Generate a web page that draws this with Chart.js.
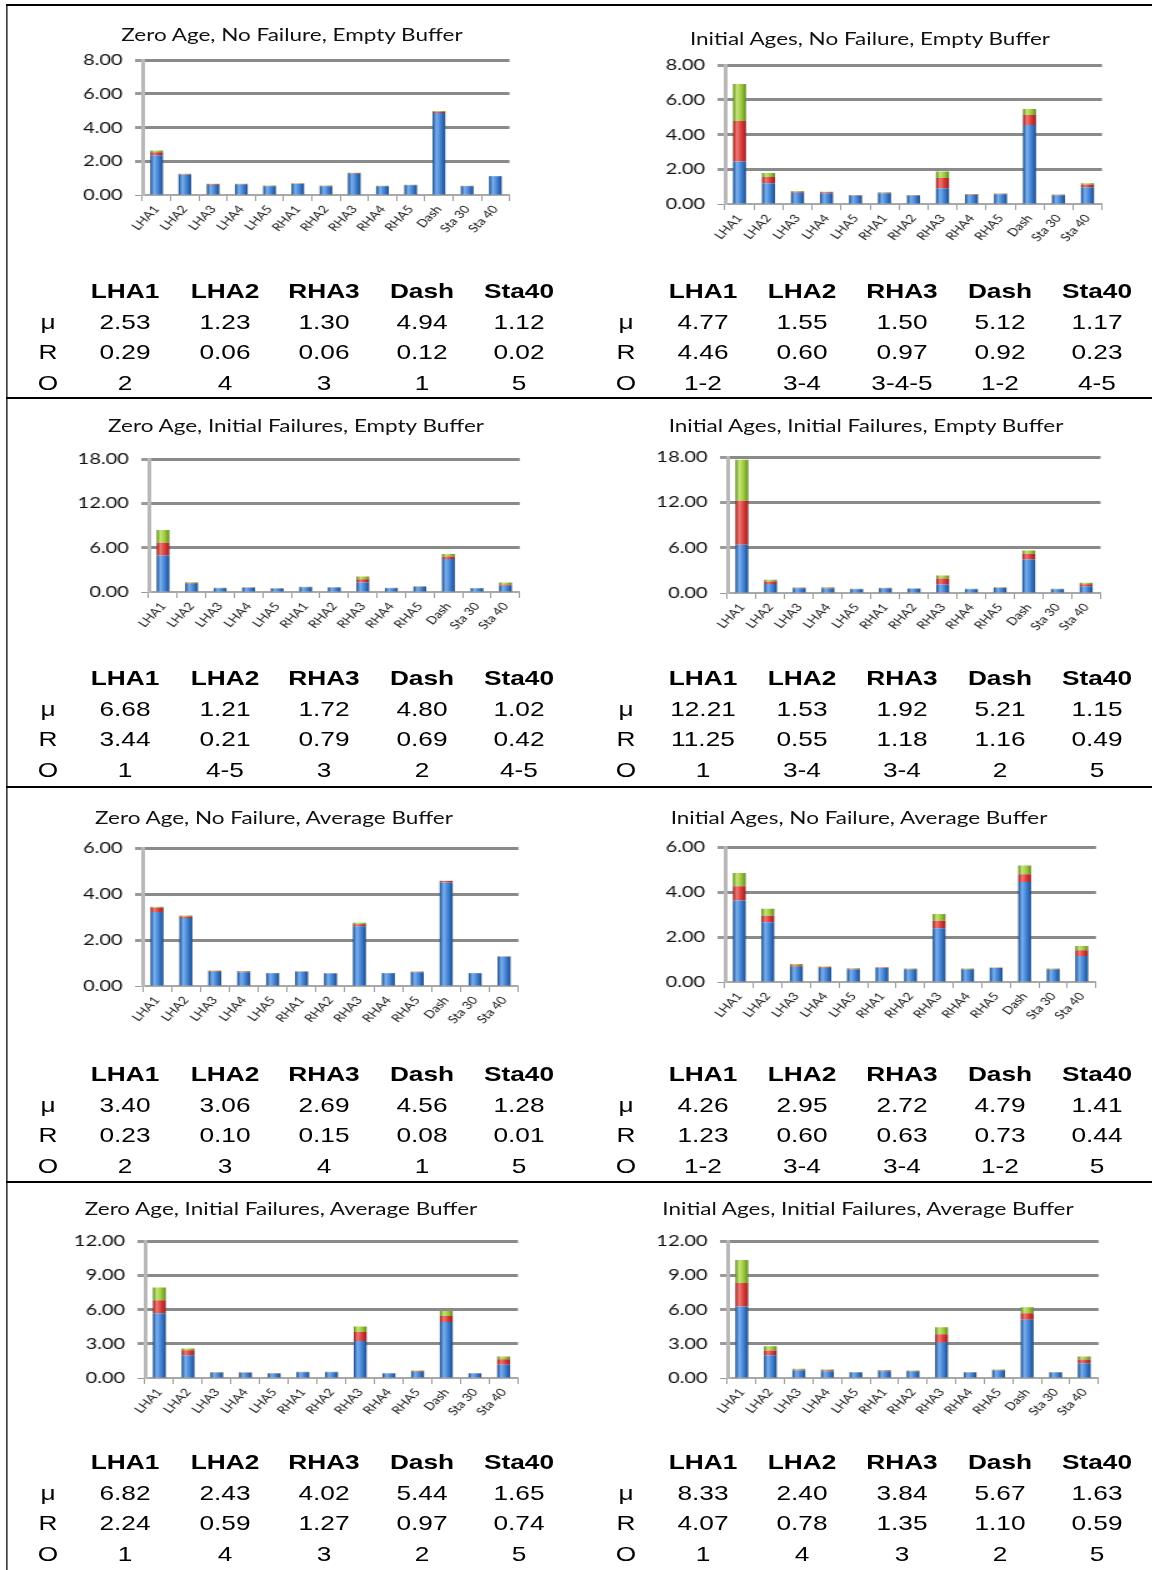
<!DOCTYPE html>
<html>
<head>
<meta charset="utf-8">
<script src="https://cdn.jsdelivr.net/npm/chart.js@4.4.0/dist/chart.umd.min.js"></script>
<style>
  html, body { margin: 0; padding: 0; background: #fff; }
  body { width: 1152px; height: 1570px; overflow: hidden; position: relative; }
  /* the scanned page is wider than it is tall; build it narrow and widen it */
  #root { position: absolute; left: 0; top: 0; width: 921.6px; height: 1570px;
          transform: scaleX(1.25); transform-origin: 0 0; }
  .rule { position: absolute; background: #000; }
  .box { position: absolute; }
  .ttl { position: absolute; font-family: Lato, sans-serif; font-size: 18px; line-height: 24px;
         white-space: nowrap; transform: translateX(-50%); color: #111; }
  .cell { position: absolute; font-family: "Liberation Sans", Arial, sans-serif; font-size: 21px;
          line-height: 24px; white-space: nowrap; transform: translateX(-50%); color: #000; }
  .cell.head { font-weight: bold; }
</style>
</head>
<body>
<div id="root"></div>
<script>
const categories = ['LHA1', 'LHA2', 'LHA3', 'LHA4', 'LHA5', 'RHA1', 'RHA2', 'RHA3', 'RHA4', 'RHA5', 'Dash', 'Sta 30', 'Sta 40'];
const tableCols = ['LHA1', 'LHA2', 'RHA3', 'Dash', 'Sta40'];
const rowLabels = ['μ', 'R', 'O'];

// 1. Zero Age, No Failure, Empty Buffer
const p1Title = 'Zero Age, No Failure, Empty Buffer';
const p1Blue  = [2.35, 1.20, 0.60, 0.62, 0.52, 0.65, 0.52, 1.26, 0.52, 0.58, 4.86, 0.52, 1.11];
const p1Red   = [0.18, 0.03, 0.03, 0.03, 0.02, 0.02, 0.02, 0.04, 0.02, 0.02, 0.08, 0.02, 0.01];
const p1Green = [0.11, 0.03, 0.03, 0.02, 0.02, 0.02, 0.02, 0.02, 0.01, 0.01, 0.04, 0.01, 0.01];
const p1Mu = ['2.53', '1.23', '1.30', '4.94', '1.12'];
const p1R  = ['0.29', '0.06', '0.06', '0.12', '0.02'];
const p1O  = ['2', '4', '3', '1', '5'];

// 2. Initial Ages, No Failure, Empty Buffer
const p2Title = 'Initial Ages, No Failure, Empty Buffer';
const p2Blue  = [2.44, 1.19, 0.65, 0.62, 0.48, 0.62, 0.48, 0.90, 0.52, 0.56, 4.55, 0.50, 0.97];
const p2Red   = [2.33, 0.36, 0.05, 0.05, 0.02, 0.03, 0.02, 0.60, 0.03, 0.03, 0.57, 0.03, 0.15];
const p2Green = [2.13, 0.24, 0.05, 0.04, 0.02, 0.02, 0.02, 0.37, 0.02, 0.02, 0.35, 0.02, 0.08];
const p2Mu = ['4.77', '1.55', '1.50', '5.12', '1.17'];
const p2R  = ['4.46', '0.60', '0.97', '0.92', '0.23'];
const p2O  = ['1-2', '3-4', '3-4-5', '1-2', '4-5'];

// 3. Zero Age, Initial Failures, Empty Buffer
const p3Title = 'Zero Age, Initial Failures, Empty Buffer';
const p3Blue  = [4.95, 1.10, 0.52, 0.58, 0.48, 0.64, 0.60, 1.30, 0.52, 0.70, 4.45, 0.50, 0.85];
const p3Red   = [1.73, 0.11, 0.03, 0.04, 0.02, 0.04, 0.03, 0.42, 0.03, 0.05, 0.35, 0.02, 0.17];
const p3Green = [1.71, 0.10, 0.03, 0.03, 0.02, 0.03, 0.02, 0.37, 0.02, 0.03, 0.34, 0.02, 0.25];
const p3Mu = ['6.68', '1.21', '1.72', '4.80', '1.02'];
const p3R  = ['3.44', '0.21', '0.79', '0.69', '0.42'];
const p3O  = ['1', '4-5', '3', '2', '4-5'];

// 4. Initial Ages, Initial Failures, Empty Buffer
const p4Title = 'Initial Ages, Initial Failures, Empty Buffer';
const p4Blue  = [6.40, 1.20, 0.62, 0.60, 0.50, 0.60, 0.55, 1.12, 0.50, 0.65, 4.45, 0.50, 0.88];
const p4Red   = [5.81, 0.33, 0.07, 0.08, 0.03, 0.05, 0.04, 0.80, 0.03, 0.06, 0.76, 0.03, 0.27];
const p4Green = [5.44, 0.22, 0.05, 0.07, 0.02, 0.03, 0.02, 0.38, 0.02, 0.04, 0.40, 0.02, 0.22];
const p4Mu = ['12.21', '1.53', '1.92', '5.21', '1.15'];
const p4R  = ['11.25', '0.55', '1.18', '1.16', '0.49'];
const p4O  = ['1', '3-4', '3-4', '2', '5'];

// 5. Zero Age, No Failure, Average Buffer
const p5Title = 'Zero Age, No Failure, Average Buffer';
const p5Blue  = [3.22, 2.96, 0.62, 0.60, 0.55, 0.62, 0.54, 2.60, 0.55, 0.60, 4.50, 0.55, 1.27];
const p5Red   = [0.18, 0.06, 0.03, 0.03, 0.01, 0.01, 0.01, 0.09, 0.01, 0.02, 0.06, 0.01, 0.01];
const p5Green = [0.05, 0.04, 0.02, 0.02, 0.01, 0.01, 0.01, 0.06, 0.01, 0.01, 0.02, 0.01, 0.01];
const p5Mu = ['3.40', '3.06', '2.69', '4.56', '1.28'];
const p5R  = ['0.23', '0.10', '0.15', '0.08', '0.01'];
const p5O  = ['2', '3', '4', '1', '5'];

// 6. Initial Ages, No Failure, Average Buffer
const p6Title = 'Initial Ages, No Failure, Average Buffer';
const p6Blue  = [3.62, 2.66, 0.68, 0.62, 0.56, 0.62, 0.56, 2.39, 0.56, 0.62, 4.45, 0.56, 1.16];
const p6Red   = [0.64, 0.29, 0.06, 0.04, 0.03, 0.02, 0.02, 0.33, 0.02, 0.01, 0.34, 0.02, 0.25];
const p6Green = [0.59, 0.31, 0.06, 0.03, 0.02, 0.02, 0.02, 0.30, 0.02, 0.01, 0.39, 0.02, 0.19];
const p6Mu = ['4.26', '2.95', '2.72', '4.79', '1.41'];
const p6R  = ['1.23', '0.60', '0.63', '0.73', '0.44'];
const p6O  = ['1-2', '3-4', '3-4', '1-2', '5'];

// 7. Zero Age, Initial Failures, Average Buffer
const p7Title = 'Zero Age, Initial Failures, Average Buffer';
const p7Blue  = [5.68, 2.00, 0.45, 0.45, 0.40, 0.50, 0.50, 3.24, 0.40, 0.55, 4.90, 0.40, 1.15];
const p7Red   = [1.14, 0.43, 0.04, 0.03, 0.02, 0.03, 0.03, 0.78, 0.02, 0.06, 0.54, 0.02, 0.50];
const p7Green = [1.10, 0.16, 0.03, 0.02, 0.02, 0.02, 0.02, 0.49, 0.02, 0.04, 0.43, 0.02, 0.24];
const p7Mu = ['6.82', '2.43', '4.02', '5.44', '1.65'];
const p7R  = ['2.24', '0.59', '1.27', '0.97', '0.74'];
const p7O  = ['1', '4', '3', '2', '5'];

// 8. Initial Ages, Initial Failures, Average Buffer
const p8Title = 'Initial Ages, Initial Failures, Average Buffer';
const p8Blue  = [6.26, 2.00, 0.65, 0.60, 0.48, 0.60, 0.58, 3.10, 0.48, 0.65, 5.10, 0.48, 1.30];
const p8Red   = [2.07, 0.40, 0.08, 0.08, 0.03, 0.05, 0.04, 0.74, 0.03, 0.05, 0.57, 0.03, 0.33];
const p8Green = [2.00, 0.38, 0.07, 0.06, 0.02, 0.04, 0.03, 0.61, 0.02, 0.04, 0.53, 0.02, 0.26];
const p8Mu = ['8.33', '2.40', '3.84', '5.67', '1.63'];
const p8R  = ['4.07', '0.78', '1.35', '1.10', '0.59'];
const p8O  = ['1', '4', '3', '2', '5'];

const yMax  = [8, 8, 18, 18, 6, 6, 12, 12];
const yStep = [2, 2, 6, 6, 2, 2, 3, 3];

const panels = [
  { title: p1Title, blue: p1Blue, red: p1Red, green: p1Green, mu: p1Mu, r: p1R, o: p1O },
  { title: p2Title, blue: p2Blue, red: p2Red, green: p2Green, mu: p2Mu, r: p2R, o: p2O },
  { title: p3Title, blue: p3Blue, red: p3Red, green: p3Green, mu: p3Mu, r: p3R, o: p3O },
  { title: p4Title, blue: p4Blue, red: p4Red, green: p4Green, mu: p4Mu, r: p4R, o: p4O },
  { title: p5Title, blue: p5Blue, red: p5Red, green: p5Green, mu: p5Mu, r: p5R, o: p5O },
  { title: p6Title, blue: p6Blue, red: p6Red, green: p6Green, mu: p6Mu, r: p6R, o: p6O },
  { title: p7Title, blue: p7Blue, red: p7Red, green: p7Green, mu: p7Mu, r: p7R, o: p7O },
  { title: p8Title, blue: p8Blue, red: p8Red, green: p8Green, mu: p8Mu, r: p8R, o: p8O },
];

// page layout, in page pixels: title centre, plot box, table rows/columns
const leftCols  = [48, 125, 225, 324, 422, 519];
const rightCols = [626, 703, 802, 902, 1000, 1097];
const frames = [
  { tx: 292, ty: 34,   left: 143, right: 510,  top: 60,   bottom: 195,  rowY: 291,  cols: leftCols },
  { tx: 870, ty: 38,   left: 725, right: 1102, top: 65,   bottom: 204,  rowY: 291,  cols: rightCols },
  { tx: 296, ty: 425,  left: 149, right: 520,  top: 459,  bottom: 592,  rowY: 678,  cols: leftCols },
  { tx: 866, ty: 425,  left: 727, right: 1100, top: 457,  bottom: 593,  rowY: 678,  cols: rightCols },
  { tx: 274, ty: 817,  left: 143, right: 519,  top: 848,  bottom: 986,  rowY: 1074, cols: leftCols },
  { tx: 859, ty: 817,  left: 725, right: 1096, top: 847,  bottom: 982,  rowY: 1074, cols: rightCols },
  { tx: 281, ty: 1208, left: 145, right: 518,  top: 1241, bottom: 1378, rowY: 1462, cols: leftCols },
  { tx: 868, ty: 1208, left: 727, right: 1098, top: 1241, bottom: 1378, rowY: 1462, cols: rightCols },
];
const ROW_GAP = 30.5;

const SX = 1.25;
// PADT must cover half a tick label plus the tick padding, or Chart.js pushes the plot down
const YW = 58, PADL = 4, PADT = 22, PADR = 14, XH = 50;
const BAR_FRAC = 0.45;

const blueShades  = ['#1d4c8a', '#3f80d2', '#79b0ee'];
const redShades   = ['#9a2020', '#d8393a', '#ef7a72'];
const greenShades = ['#5f8c1d', '#9cc83d', '#c6e67a'];

const root = document.getElementById('root');

function add(cls, css, text) {
  const d = document.createElement('div');
  d.className = cls;
  Object.assign(d.style, css);
  if (text !== undefined) d.textContent = text;
  root.appendChild(d);
  return d;
}

// frame rules
add('rule', { left: (6 / SX) + 'px', top: '4px', width: (2 / SX) + 'px', height: '1566px' });
[4, 397, 786, 1181].forEach(y => {
  add('rule', { left: (6 / SX) + 'px', top: y + 'px', width: (1146 / SX) + 'px', height: '2px' });
});

// horizontal shading so each bar reads as a cylinder
function cylinder(shades) {
  return (c) => {
    const chart = c.chart, xs = chart.scales && chart.scales.x;
    if (!chart.chartArea || !xs || c.dataIndex === undefined) return shades[1];
    const cx = xs.getPixelForValue(c.dataIndex);
    const half = xs.width / categories.length * BAR_FRAC / 2;
    const g = chart.ctx.createLinearGradient(cx - half, 0, cx + half, 0);
    g.addColorStop(0, shades[0]);
    g.addColorStop(0.3, shades[2]);
    g.addColorStop(0.65, shades[1]);
    g.addColorStop(1, shades[0]);
    return g;
  };
}

panels.forEach((p, i) => {
  const f = frames[i];

  add('ttl', { left: (f.tx / SX) + 'px', top: (f.ty - 12) + 'px' }, p.title);

  const pl = f.left / SX, pr = f.right / SX;
  const L = pl - YW - PADL;
  const W = Math.round(pr + PADR - L);
  const T = f.top - PADT;
  const H = f.bottom - T + XH;

  const box = add('box', { left: L + 'px', top: T + 'px', width: W + 'px', height: H + 'px' });
  const canvas = document.createElement('canvas');
  canvas.width = W;
  canvas.height = H;
  box.appendChild(canvas);

  new Chart(canvas, {
    type: 'bar',
    data: {
      labels: categories,
      datasets: [
        { label: 'min', data: p.blue, backgroundColor: cylinder(blueShades) },
        { label: 'mean', data: p.red, backgroundColor: cylinder(redShades) },
        { label: 'max', data: p.green, backgroundColor: cylinder(greenShades) }
      ]
    },
    options: {
      responsive: false,
      animation: false,
      layout: { padding: { left: PADL, top: PADT, right: W - (pr - L), bottom: 0 } },
      datasets: { bar: { categoryPercentage: 0.9, barPercentage: BAR_FRAC / 0.9 } },
      plugins: { legend: { display: false }, title: { display: false }, tooltip: { enabled: false } },
      scales: {
        x: {
          stacked: true,
          afterFit: s => { s.height = XH; },
          grid: { drawOnChartArea: false, drawTicks: true, tickLength: 6, color: '#9a9a9a', lineWidth: 1 },
          border: { color: '#a8a8a8', width: 2 },
          ticks: { autoSkip: false, minRotation: 51, maxRotation: 51, padding: 2, color: '#111',
                   font: { family: 'Lato', size: 11 } }
        },
        y: {
          stacked: true,
          min: 0,
          max: yMax[i],
          afterFit: s => { s.width = YW; },
          grid: {
            color: c => (c.tick && c.tick.value === 0) ? '#a8a8a8' : '#8a8a8a',
            lineWidth: c => (c.tick && c.tick.value === 0) ? 1 : 3,
            tickLength: 6,
            tickColor: '#9a9a9a'
          },
          border: { color: '#b8b8b8', width: 3 },
          ticks: { stepSize: yStep[i], padding: 10, color: '#111',
                   font: { family: 'Lato', size: 16 },
                   callback: v => Number(v).toFixed(2) }
        }
      }
    }
  });

  // summary table
  const rows = [tableCols, p.mu, p.r, p.o];
  rows.forEach((vals, r) => {
    const y = f.rowY + r * ROW_GAP - 12;
    if (r > 0) add('cell', { left: (f.cols[0] / SX) + 'px', top: y + 'px' }, rowLabels[r - 1]);
    vals.forEach((v, k) => {
      add(r === 0 ? 'cell head' : 'cell', { left: (f.cols[k + 1] / SX) + 'px', top: y + 'px' }, v);
    });
  });
});
</script>
</body>
</html>
